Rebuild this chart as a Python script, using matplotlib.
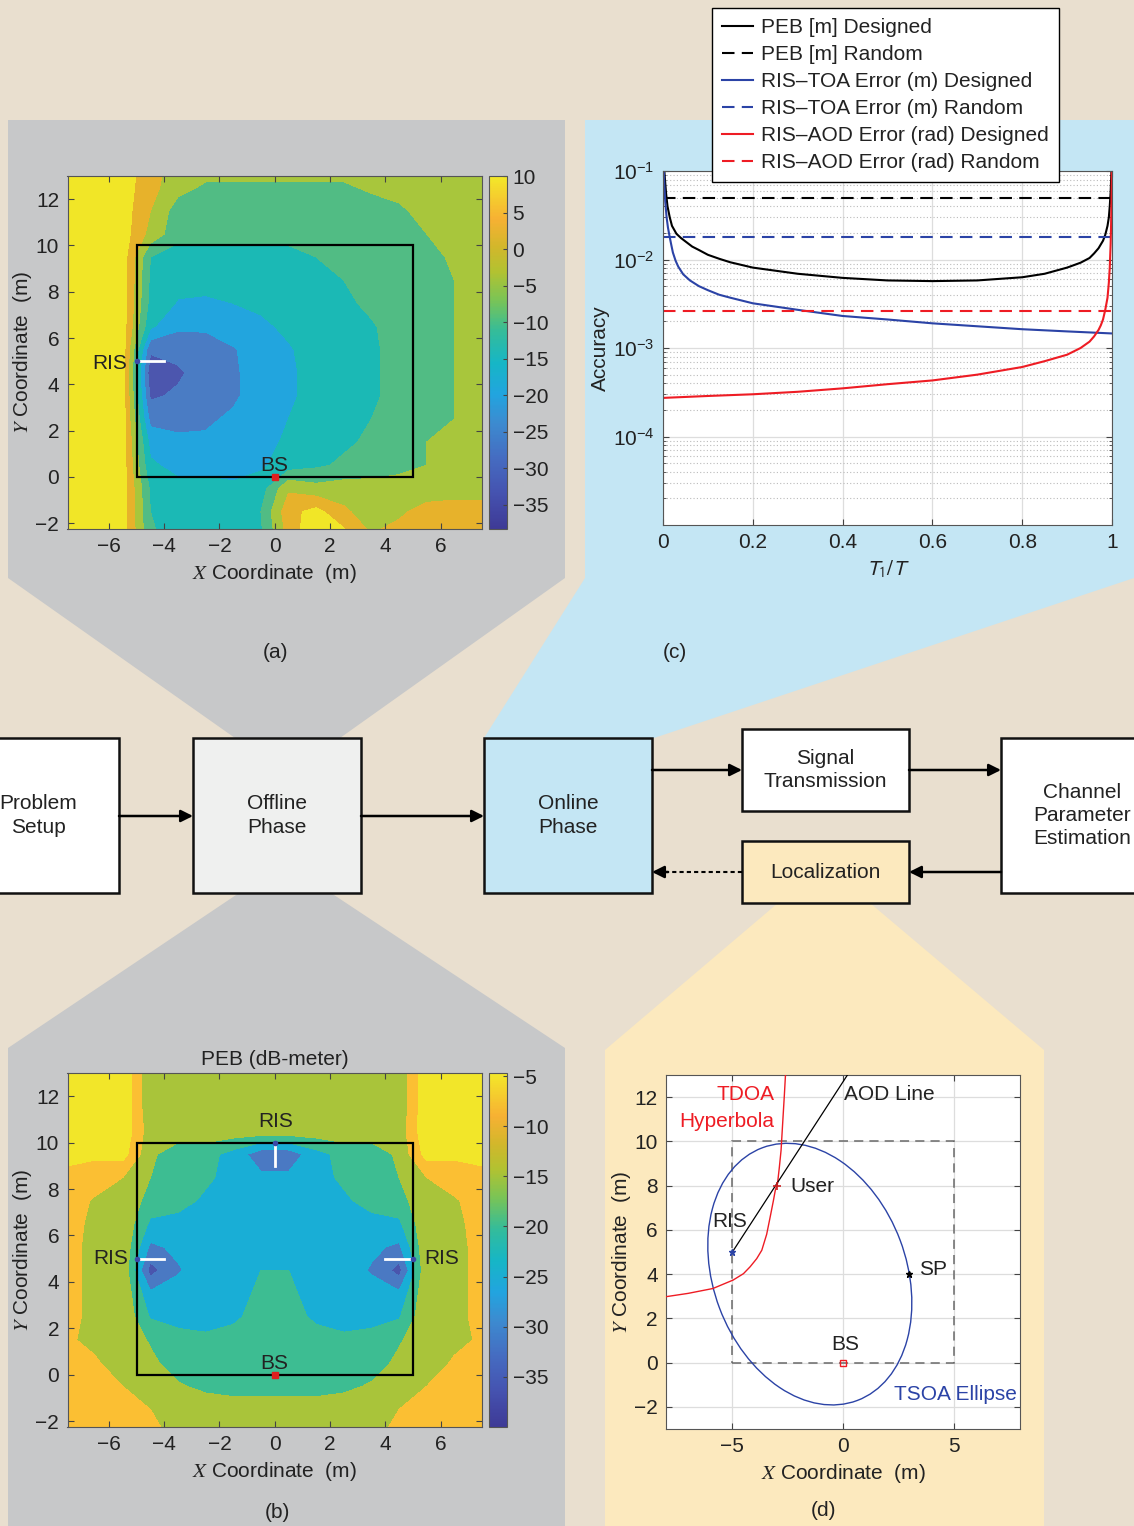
import numpy as np
import matplotlib
matplotlib.use('Agg')
import matplotlib.pyplot as plt
from matplotlib.patches import Polygon, Rectangle, Ellipse
from matplotlib.colors import LinearSegmentedColormap, Normalize
import matplotlib.cm as cm

plt.rcParams['font.family'] = ['Liberation Sans', 'DejaVu Sans']
plt.rcParams['font.size'] = 15
plt.rcParams['text.color'] = '#222222'
plt.rcParams['axes.labelcolor'] = '#222222'
plt.rcParams['xtick.color'] = '#444444'
plt.rcParams['ytick.color'] = '#444444'
plt.rcParams['xtick.labelcolor'] = '#222222'
plt.rcParams['ytick.labelcolor'] = '#222222'

# ---------------- data ----------------
# PEB maps (dB-meter), grid nodes
grid_x = [-7.5, -6.5, -5.5, -4.5, -3.5, -2.5, -1.5, -0.5, 0.5, 1.5, 2.5, 3.5, 4.5, 5.5, 6.5, 7.5]
grid_y = [13.5, 12.5, 11.5, 10.5, 9.5, 8.5, 7.5, 6.5, 5.5, 4.5, 3.5, 2.5, 1.5, 0.5, -0.5, -1.5, -2.5]

peb_one_ris = [
    [9, 9, 9, 3, -3, -3, -3, -3, -3, -3, -3, -3, -3, -3, -3, -3],
    [9, 9, 9, 2, -4, -7, -7, -7, -7, -7, -7, -5, -4, -3, -3, -3],
    [9, 9, 9, 0, -9, -9, -9, -9, -9, -9, -9, -9, -7, -4, -3, -3],
    [9, 9, 9, -2, -10, -10, -10, -10, -10, -9, -9, -9, -9, -6, -4, -3],
    [9, 9, 9, -12, -15, -15, -15, -15, -14, -12, -10, -9, -9, -8, -5, -3],
    [9, 9, 9, -13, -16, -16, -16, -16, -15, -14, -12, -10, -9, -8, -6, -4],
    [9, 9, 9, -14, -18.5, -19, -18, -17, -16, -15, -13, -11, -9, -8, -6, -4],
    [9, 9, 9, -17, -23, -23, -21, -19, -17, -15, -14, -12.5, -10, -8, -6, -4],
    [9, 9, 9, -29, -28, -27, -24.5, -21, -18.5, -16, -14, -13, -10, -8, -6, -4],
    [9, 9, 9, -34, -31, -27, -25, -21, -19, -16, -14, -13, -10, -8, -6, -4],
    [9, 9, 9, -31, -29, -27, -25, -21, -19, -16, -14, -13, -10, -8, -6, -4],
    [9, 9, 9, -26, -25.5, -25, -23, -20, -18, -15, -14, -12, -10, -8, -6, -4],
    [9, 9, 9, -20, -23, -23, -22, -20, -17, -15, -13, -11, -9, -6, -5, -4],
    [9, 9, 9, -17, -20, -20, -20, -19, -15, -13, -11, -10, -8, -6, -5, -4],
    [9, 9, 9, -13, -16, -16, -17, -15, -1, -4, -3, -3, -3, -3, -3, -3],
    [9, 9, 9, -12, -15, -16, -17, -12, 4, 8, 1, -3, -1, 2, 3, 3],
    [9, 9, 9, -11, -15, -16, -17, -13, 2, 12, 8, 0, 2, 3, 3, 3],
]

peb_three_ris = [
    [-5, -5, -3, -16, -14.5, -14.5, -14.5, -14.5, -14.5, -14.5, -14.5, -14.5, -16, -3, -5, -5],
    [-5, -5, -3, -16, -14.5, -14.5, -14.5, -14.5, -14.5, -14.5, -14.5, -14.5, -16, -3, -5, -5],
    [-5, -5, -3, -16, -14.5, -14.5, -14.5, -14.5, -14.5, -14.5, -14.5, -14.5, -16, -3, -5, -5],
    [-5, -5, -3, -15, -14, -14, -14, -14, -14, -14, -14, -14, -15, -3, -5, -5],
    [-6, -6, -5, -16, -20, -20, -24, -30, -30, -24, -20, -20, -16, -5, -6, -6],
    [-8, -10, -12, -17, -20, -21, -24, -26, -26, -24, -21, -20, -17, -12, -10, -8],
    [-10, -12.5, -13, -19, -20, -23, -24, -24, -24, -24, -23, -20, -19, -13, -12.5, -10],
    [-10.5, -13, -13, -23, -24, -24.5, -24, -23, -23, -24, -24.5, -24, -23, -13, -13, -10.5],
    [-11, -13, -13, -28, -26, -24.5, -24, -23, -23, -24, -24.5, -26, -28, -13, -13, -11],
    [-11, -13, -13, -34, -27.5, -24.5, -24, -22, -22, -24, -24.5, -27.5, -34, -13, -13, -11],
    [-11, -13, -13, -26, -25, -24.5, -24, -21, -21, -24, -24.5, -25, -26, -13, -13, -11],
    [-11, -13, -13, -22.5, -24, -24, -23, -20, -20, -23, -24, -24, -22.5, -13, -13, -11],
    [-11.5, -13, -14, -17.5, -20, -21, -20, -19, -19, -20, -21, -20, -17.5, -14, -13, -11.5],
    [-10.5, -11.5, -14, -16, -19, -20, -20, -20, -20, -20, -20, -19, -16, -14, -11.5, -10.5],
    [-10, -10.5, -12, -14.5, -16.5, -18, -19, -19.5, -19.5, -19, -18, -16.5, -14.5, -12, -10.5, -10],
    [-9.5, -10, -10.5, -12, -14, -14.5, -14.5, -14, -14, -14.5, -14.5, -14, -12, -10.5, -10, -9.5],
    [-9.5, -9.5, -10, -11, -13, -14, -14.5, -14.5, -14.5, -14.5, -14, -13, -11, -10, -9.5, -9.5],
]

levels_a = [-45, -30, -24, -18, -12, -6, 0, 6, 20]
colors_a = ['#4c56ae', '#4a7cc4', '#22a5de', '#1bb9b5', '#51bc84', '#a8c63c', '#e7b22b', '#f1e627']
levels_b = [-45, -32, -27, -22, -17, -12, -7, 5]
colors_b = ['#4a55ad', '#4a79c3', '#19aed6', '#3dbd92', '#a9c43a', '#fbbf33', '#f2e629']
cbar_ticks_a = [-35, -30, -25, -20, -15, -10, -5, 0, 5, 10]
cbar_ticks_b = [-35, -30, -25, -20, -15, -10, -5]

# accuracy vs T1/T
t_peb = [0.003, 0.004, 0.005, 0.007, 0.01, 0.015, 0.02, 0.03, 0.04, 0.05, 0.065, 0.08, 0.1,
         0.125, 0.15, 0.2, 0.3, 0.4, 0.5, 0.6, 0.7, 0.8, 0.85, 0.9, 0.93, 0.95, 0.96, 0.97,
         0.98, 0.985, 0.99, 0.993, 0.995, 0.997, 0.998, 0.999]
peb_designed = [0.1, 0.085, 0.073, 0.055, 0.04, 0.03, 0.024, 0.0195, 0.0175, 0.016, 0.014,
                0.0128, 0.0113, 0.0102, 0.0093, 0.0081, 0.0069, 0.0062, 0.0058, 0.0057, 0.0058,
                0.0063, 0.0069, 0.0081, 0.0092, 0.0104, 0.0117, 0.0134, 0.0163, 0.019, 0.024,
                0.03, 0.04, 0.058, 0.08, 0.11]
t_toa = [0.002, 0.003, 0.005, 0.008, 0.011, 0.014, 0.018, 0.022, 0.028, 0.034, 0.045, 0.06,
         0.08, 0.1, 0.125, 0.15, 0.2, 0.3, 0.4, 0.5, 0.6, 0.7, 0.8, 0.9, 1.0]
toa_designed = [0.1, 0.07, 0.045, 0.03, 0.023, 0.019, 0.015, 0.012, 0.0097, 0.0083, 0.0068,
                0.0058, 0.005, 0.0045, 0.004, 0.0037, 0.0032, 0.0027, 0.0023, 0.0021, 0.0019,
                0.00176, 0.00163, 0.00154, 0.00146]
t_aod = [0.0, 0.1, 0.2, 0.3, 0.4, 0.5, 0.6, 0.7, 0.8, 0.85, 0.9, 0.93, 0.95, 0.96, 0.97, 0.975,
         0.98, 0.985, 0.99, 0.993, 0.995, 0.997, 0.998, 0.999, 0.9995, 0.9999]
aod_designed = [0.000273, 0.000287, 0.0003, 0.00032, 0.00035, 0.00039, 0.00043, 0.0005, 0.00061,
                0.00071, 0.00084, 0.001, 0.00118, 0.00135, 0.0016, 0.0018, 0.0021, 0.0027,
                0.0037, 0.0055, 0.0081, 0.015, 0.025, 0.05, 0.1, 0.15]
t_rand = [0.0, 1.0]
peb_random = [0.049, 0.049]
toa_random = [0.018, 0.018]
aod_random = [0.00265, 0.00265]

# localization geometry
hyp_x = [-8.0, -7.0, -5.88, -4.97, -4.5, -4.2, -3.9, -3.67, -3.45, -3.29, -3.15, -3.06, -2.96,
         -2.88, -2.8, -2.71, -2.65, -2.6]
hyp_y = [2.98, 3.13, 3.35, 3.73, 4.02, 4.33, 4.7, 5.08, 5.8, 6.59, 7.3, 7.79, 8.09, 8.8, 9.59,
         11.1, 12.1, 13.0]
aod_x = [-5.0, 0.2]
aod_y = [5.0, 13.0]
ellipse_center = (-1.5, 4.0)
ellipse_axes = (12.2, 8.72)
ellipse_angle = 110.6
ris_pt = (-5, 5)
user_pt = (-3, 8)
sp_pt = (3, 4)
bs_pt = (0, 0)

# ---------------- figure ----------------
W, H = 1134, 1526
fig = plt.figure(figsize=(W / 100, H / 100), dpi=100, facecolor='#e9dfcf')


def px(x0, y0, x1, y1):
    return [x0 / W, 1 - y1 / H, (x1 - x0) / W, (y1 - y0) / H]


bg = fig.add_axes([0, 0, 1, 1])
bg.set_xlim(0, W)
bg.set_ylim(H, 0)
bg.axis('off')

gray = '#c7c8c9'
bg.add_patch(Polygon([(8, 120), (565, 120), (565, 578), (340, 738), (235, 738), (8, 578)],
                     closed=True, fc=gray, ec='none'))
bg.add_patch(Polygon([(239, 893), (331, 893), (565, 1048), (565, 1526), (8, 1526), (8, 1048)],
                     closed=True, fc=gray, ec='none'))
bg.add_patch(Polygon([(585, 120), (1134, 120), (1134, 578), (654, 738), (484, 738), (585, 578)],
                     closed=True, fc='#c4e6f4', ec='none'))
bg.add_patch(Polygon([(778, 903), (870, 903), (1044, 1050), (1044, 1526), (605, 1526), (605, 1050)],
                     closed=True, fc='#fce9be', ec='none'))

# block diagram: box corners, fill, text centre x, label
boxes = [
    (-60, 738, 119, 893, '#ffffff', 38, 'Problem\nSetup'),
    (193, 738, 361, 893, '#eff0ef', 277, 'Offline\nPhase'),
    (484, 738, 652, 893, '#c4e6f4', 568, 'Online\nPhase'),
    (742, 729, 909, 811, '#ffffff', 825, 'Signal\nTransmission'),
    (742, 841, 909, 903, '#fce9be', 825, 'Localization'),
    (1001, 738, 1180, 893, '#ffffff', 1082, 'Channel\nParameter\nEstimation'),
]
for x0, y0, x1, y1, fc, tx, txt in boxes:
    bg.add_patch(Rectangle((x0, y0), x1 - x0, y1 - y0, fc=fc, ec='#111111', lw=1.8))
    bg.text(tx, (y0 + y1) / 2, txt, ha='center', va='center', fontsize=15, linespacing=1.28)

arrow_kw = dict(arrowstyle='-|>', color='k', lw=1.8, mutation_scale=18, shrinkA=0, shrinkB=0)
for (xa, ya), (xb, yb) in [((119, 816), (193, 816)), ((361, 816), (484, 816)),
                           ((652, 770), (742, 770)), ((909, 770), (1001, 770)),
                           ((1001, 872), (909, 872))]:
    bg.annotate('', xy=(xb, yb), xytext=(xa, ya), arrowprops=arrow_kw)
bg.plot([742, 668], [872, 872], color='k', lw=1.5, ls=(0, (2, 1.5)))
bg.annotate('', xy=(652, 872), xytext=(668, 872), arrowprops=arrow_kw)

for x, y, s in [(275, 653, '(a)'), (675, 653, '(c)'), (277, 1512, '(b)'), (824, 1511, '(d)')]:
    bg.text(x, y, s, ha='center', va='center', fontsize=15)

# colormap for the colorbars
parula = LinearSegmentedColormap.from_list('parula_print', [
    (0.00, '#3e3a96'), (0.10, '#4552b0'), (0.20, '#456cc1'), (0.30, '#3c8bd0'),
    (0.38, '#22a4df'), (0.47, '#16b6c6'), (0.56, '#34bc9a'), (0.65, '#7bc455'),
    (0.73, '#b2c231'), (0.80, '#d2b72b'), (0.88, '#f7b133'), (1.00, '#f3e829')])

X, Y = np.meshgrid(grid_x, grid_y)


def style_axes(ax):
    for s in ax.spines.values():
        s.set_color('#555555')
    ax.tick_params(direction='in', top=True, right=True, length=4, pad=6)


def peb_map(rect, crect, Z, levels, colors, vmin, vmax, cticks):
    ax = fig.add_axes(px(*rect))
    ax.contourf(X, Y, np.array(Z), levels=levels, colors=colors)
    ax.add_patch(Rectangle((-5, 0), 10, 10, fill=False, ec='k', lw=1.6, zorder=3))
    ax.set_xlim(-7.5, 7.5)
    ax.set_ylim(-2.25, 13)
    ax.set_xticks([-6, -4, -2, 0, 2, 4, 6])
    ax.set_yticks([-2, 0, 2, 4, 6, 8, 10, 12])
    style_axes(ax)
    ax.set_xlabel(r'$X$ Coordinate  (m)', math_fontfamily='stix')
    ax.set_ylabel(r'$Y$ Coordinate  (m)', math_fontfamily='stix', labelpad=1)
    ax.plot([0], [0], 's', ms=4, mfc='#e02020', mec='#e02020', zorder=5)
    ax.text(0, 0.5, 'BS', ha='center', va='center', fontsize=15)
    cax = fig.add_axes(px(*crect))
    sm = cm.ScalarMappable(norm=Normalize(vmin, vmax), cmap=parula)
    cb = fig.colorbar(sm, cax=cax, ticks=cticks)
    cb.outline.set_edgecolor('#555555')
    cax.tick_params(direction='in', length=3, labelsize=15, pad=4)
    return ax


axa = peb_map((67.5, 176, 482, 529), (489, 176, 507, 529), peb_one_ris, levels_a, colors_a,
              -38.3, 10, cbar_ticks_a)
axa.plot([-5, -4], [5, 5], color='white', lw=2, zorder=4)
axa.plot([-5], [5], 'o', ms=3, color='#3a4aa8', zorder=5)
axa.text(-5.35, 4.9, 'RIS', ha='right', va='center', fontsize=15)

axb = peb_map((67.5, 1073, 482, 1427), (489, 1073, 507, 1427), peb_three_ris, levels_b, colors_b,
              -40, -4.7, cbar_ticks_b)
axb.set_title('PEB (dB-meter)', fontsize=15, pad=6)
axb.plot([-5, -4], [5, 5], color='white', lw=2, zorder=4)
axb.plot([5, 4], [5, 5], color='white', lw=2, zorder=4)
axb.plot([0, 0], [10, 9], color='white', lw=2, zorder=4)
axb.plot([-5, 5, 0], [5, 5, 10], 'o', ms=3, color='#3a4aa8', zorder=5)
axb.text(-5.3, 5.0, 'RIS', ha='right', va='center', fontsize=15)
axb.text(5.4, 5.0, 'RIS', ha='left', va='center', fontsize=15)
axb.text(0.05, 10.9, 'RIS', ha='center', va='center', fontsize=15)

# (c) accuracy
dash = (0, (6, 3.5))
axc = fig.add_axes(px(663, 171, 1112, 525))
axc.semilogy(t_peb, peb_designed, color='k', lw=1.5, label='PEB [m] Designed')
axc.semilogy(t_rand, peb_random, color='k', lw=1.5, ls=dash, label='PEB [m] Random')
axc.semilogy(t_toa, toa_designed, color='#2b43a6', lw=1.5, label='RIS\u2013TOA Error (m) Designed')
axc.semilogy(t_rand, toa_random, color='#2b43a6', lw=1.5, ls=dash,
             label='RIS\u2013TOA Error (m) Random')
axc.semilogy(t_aod, aod_designed, color='#ee1c24', lw=1.5, label='RIS\u2013AOD Error (rad) Designed')
axc.semilogy(t_rand, aod_random, color='#ee1c24', lw=1.5, ls=dash,
             label='RIS\u2013AOD Error (rad) Random')
axc.set_xlim(0, 1)
axc.set_ylim(1e-5, 1e-1)
axc.set_yticks([1e-4, 1e-3, 1e-2, 1e-1])
axc.set_xticks([0, 0.2, 0.4, 0.6, 0.8, 1])
axc.set_xticklabels(['0', '0.2', '0.4', '0.6', '0.8', '1'])
axc.grid(True, which='major', color='#dddddd', lw=0.9)
axc.grid(True, which='minor', axis='y', color='#bbbbbb', ls=(0, (1, 2)), lw=0.8)
style_axes(axc)
axc.tick_params(which='minor', direction='in', length=2, top=True, right=True)
axc.set_xlabel(r'$T_1/T$', math_fontfamily='stixsans')
axc.set_ylabel('Accuracy', labelpad=2)
leg = axc.legend(loc='upper left', bbox_to_anchor=(712 / W, 1 - 8 / H),
                 bbox_transform=fig.transFigure, borderaxespad=0, fancybox=False, framealpha=1,
                 edgecolor='k', handlelength=1.45, handletextpad=0.4, borderpad=0.5,
                 labelspacing=0.38, fontsize=15)
leg.get_frame().set_linewidth(1.0)

# (d) localization geometry
axd = fig.add_axes(px(666, 1075, 1020, 1429))
axd.set_facecolor('white')
axd.add_patch(Rectangle((-5, 0), 10, 10, fill=False, ec='#6a6a6a', lw=1.1, ls=(0, (6, 4)),
                        zorder=2))
axd.add_patch(Ellipse(ellipse_center, ellipse_axes[0], ellipse_axes[1], angle=ellipse_angle,
                      fill=False, ec='#2b43a6', lw=1.0, zorder=3))
axd.plot(hyp_x, hyp_y, color='#ee1c24', lw=1.0, zorder=3)
axd.plot(aod_x, aod_y, color='k', lw=0.9, zorder=3)
axd.plot(*ris_pt, marker='*', ms=5, color='#2b43a6', zorder=4)
axd.plot(*user_pt, marker='+', ms=6, color='#cc2020', mew=1.2, zorder=4)
axd.plot(*sp_pt, marker='*', ms=5, color='k', zorder=4)
axd.plot(*bs_pt, marker='s', ms=4, mfc='none', mec='#ee1c24', mew=1.0, zorder=4)
axd.set_xlim(-8, 8)
axd.set_ylim(-3, 13)
axd.set_xticks([-5, 0, 5])
axd.set_yticks([-2, 0, 2, 4, 6, 8, 10, 12])
axd.grid(True, color='#dddddd', lw=0.9)
axd.set_axisbelow(True)
style_axes(axd)
axd.set_xlabel(r'$X$ Coordinate  (m)', math_fontfamily='stix')
axd.set_ylabel(r'$Y$ Coordinate  (m)', math_fontfamily='stix', labelpad=1)
axd.text(-3.1, 12.1, 'TDOA', color='#ee1c24', ha='right', va='center', fontsize=15)
axd.text(-3.1, 10.9, 'Hyperbola', color='#ee1c24', ha='right', va='center', fontsize=15)
axd.text(0.05, 12.1, 'AOD Line', ha='left', va='center', fontsize=15)
axd.text(-2.4, 7.95, 'User', ha='left', va='center', fontsize=15)
axd.text(-5.9, 6.4, 'RIS', ha='left', va='center', fontsize=15)
axd.text(3.45, 4.2, 'SP', ha='left', va='center', fontsize=15)
axd.text(0.1, 0.8, 'BS', ha='center', va='center', fontsize=15)
axd.text(7.85, -1.45, 'TSOA Ellipse', color='#2b43a6', ha='right', va='center', fontsize=15)

fig.savefig('out.png', dpi=100, facecolor=fig.get_facecolor())
